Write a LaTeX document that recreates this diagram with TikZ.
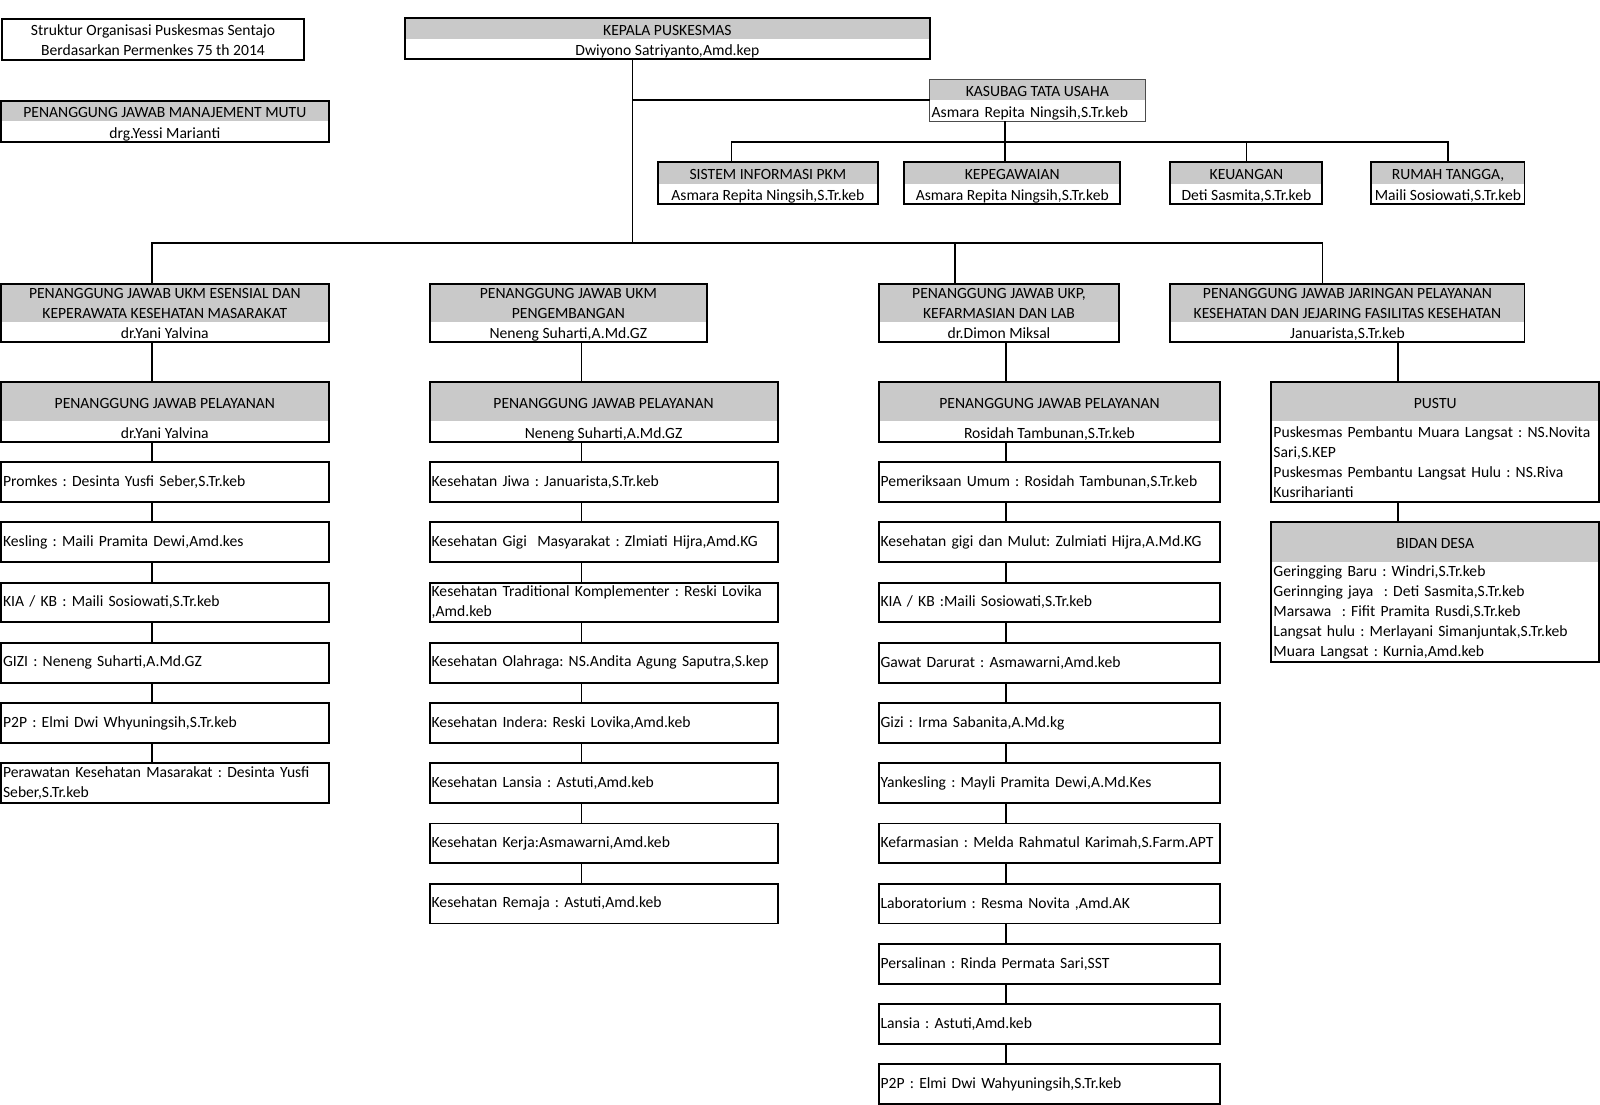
\documentclass[tikz,border=0pt]{standalone}
\usepackage{fontspec}
\setmainfont{Carlito}
\frenchspacing
\usetikzlibrary{positioning}
\definecolor{headgray}{RGB}{201,201,201}
\tikzset{
  boxline/.style={line width=1.9pt},
  thinline/.style={line width=0.8pt, draw=black!70},
  link/.style={line width=1.6pt},
  one/.style={text height=13pt, text depth=0pt},
  head/.style={fill=headgray, inner sep=0pt, outer sep=0pt, anchor=north west, align=center},
  body/.style={inner sep=0pt, outer sep=0pt, align=center, one},
  bodyleft/.style={inner xsep=2pt, inner ysep=0pt, outer sep=0pt, align=left},
  item/.style={draw, line width=1.9pt, anchor=north west, inner xsep=2pt, inner ysep=0pt, outer sep=0pt, minimum height=39pt, align=left}
}

\begin{document}
\begin{tikzpicture}[x=1pt,y=-1pt,font=\fontsize{15.3}{19.6}\selectfont]
\useasboundingbox (0,0) rectangle (1568,1082);

\node[draw, boxline, anchor=north west, minimum width=296pt, minimum height=40pt, inner sep=0pt, align=center] (judul) at (1,18) {Struktur Organisasi Puskesmas Sentajo\\Berdasarkan Permenkes 75 th 2014};

\node[head, one, minimum width=514pt, minimum height=20pt] (kepala) at (397,18) {KEPALA PUSKESMAS};
\node[body, minimum width=514pt, minimum height=20pt, below=0pt of kepala] (kepalaB) {Dwiyono Satriyanto,Amd.kep};
\draw[boxline] (kepala.north west) rectangle (kepala.east |- kepalaB.south);

\node[head, one, minimum width=321pt, minimum height=20pt] (mutu) at (1,99) {PENANGGUNG JAWAB MANAJEMENT MUTU};
\node[body, minimum width=321pt, minimum height=20pt, below=0pt of mutu] (mutuB) {drg.Yessi Marianti};
\draw[boxline] (mutu.north west) rectangle (mutu.east |- mutuB.south);

\node[head, one, minimum width=211pt, minimum height=20pt] (tu) at (911,78) {KASUBAG TATA USAHA};
\node[bodyleft, one, text width=207pt, minimum height=21pt, below=0pt of tu] (tuB) {Asmara Repita Ningsih,S.Tr.keb};
\draw[thinline] (tu.north west) rectangle (tu.east |- tuB.south);

\node[head, one, minimum width=215pt, minimum height=21pt] (sistem) at (645,159) {SISTEM INFORMASI PKM};
\node[body, minimum width=215pt, minimum height=20pt, below=0pt of sistem] (sistemB) {Asmara Repita Ningsih,S.Tr.keb};
\draw[boxline] (sistem.north west) rectangle (sistem.east |- sistemB.south);

\node[head, one, minimum width=212pt, minimum height=21pt] (pegawai) at (886,159) {KEPEGAWAIAN};
\node[body, minimum width=212pt, minimum height=20pt, below=0pt of pegawai] (pegawaiB) {Asmara Repita Ningsih,S.Tr.keb};
\draw[boxline] (pegawai.north west) rectangle (pegawai.east |- pegawaiB.south);

\node[head, one, minimum width=149pt, minimum height=21pt] (uang) at (1147,159) {KEUANGAN};
\node[body, minimum width=149pt, minimum height=20pt, below=0pt of uang] (uangB) {Deti Sasmita,S.Tr.keb};
\draw[boxline] (uang.north west) rectangle (uang.east |- uangB.south);

\node[head, one, minimum width=150pt, minimum height=21pt] (rumah) at (1344,159) {RUMAH TANGGA,};
\node[body, minimum width=150pt, minimum height=20pt, below=0pt of rumah] (rumahB) {Maili Sosiowati,S.Tr.keb};
\draw[boxline] (rumah.north west) rectangle (rumah.east |- rumahB.south);

\node[head, minimum width=321pt, minimum height=38pt] (esensial) at (1,278) {PENANGGUNG JAWAB UKM ESENSIAL DAN\\KEPERAWATA KESEHATAN MASARAKAT};
\node[body, minimum width=321pt, minimum height=19pt, below=0pt of esensial] (esensialB) {dr.Yani Yalvina};
\draw[boxline] (esensial.north west) rectangle (esensial.east |- esensialB.south);

\node[head, minimum width=272pt, minimum height=38pt] (kembang) at (421,278) {PENANGGUNG JAWAB UKM\\PENGEMBANGAN};
\node[body, minimum width=272pt, minimum height=19pt, below=0pt of kembang] (kembangB) {Neneng Suharti,A.Md.GZ};
\draw[boxline] (kembang.north west) rectangle (kembang.east |- kembangB.south);

\node[head, minimum width=236pt, minimum height=38pt] (ukp) at (861,278) {PENANGGUNG JAWAB UKP,\\KEFARMASIAN DAN LAB};
\node[body, minimum width=236pt, minimum height=19pt, below=0pt of ukp] (ukpB) {dr.Dimon Miksal};
\draw[boxline] (ukp.north west) rectangle (ukp.east |- ukpB.south);

\node[head, minimum width=347pt, minimum height=38pt] (jaringan) at (1147,278) {PENANGGUNG JAWAB JARINGAN PELAYANAN\\KESEHATAN DAN JEJARING FASILITAS KESEHATAN};
\node[body, minimum width=347pt, minimum height=19pt, below=0pt of jaringan] (jaringanB) {Januarista,S.Tr.keb};
\draw[boxline] (jaringan.north west) rectangle (jaringan.east |- jaringanB.south);

\node[head, one, minimum width=321pt, minimum height=39pt] (e) at (1,374) {PENANGGUNG JAWAB PELAYANAN};
\node[body, minimum width=321pt, minimum height=20pt, below=0pt of e] (e0) {dr.Yani Yalvina};
\draw[boxline] (e.north west) rectangle (e.east |- e0.south);

\node[head, one, minimum width=341pt, minimum height=39pt] (g) at (421,374) {PENANGGUNG JAWAB PELAYANAN};
\node[body, minimum width=341pt, minimum height=20pt, below=0pt of g] (g0) {Neneng Suharti,A.Md.GZ};
\draw[boxline] (g.north west) rectangle (g.east |- g0.south);

\node[head, one, minimum width=335pt, minimum height=39pt] (p) at (861,374) {PENANGGUNG JAWAB PELAYANAN};
\node[body, minimum width=335pt, minimum height=20pt, below=0pt of p] (p0) {Rosidah Tambunan,S.Tr.keb};
\draw[boxline] (p.north west) rectangle (p.east |- p0.south);

\node[head, one, minimum width=321pt, minimum height=39pt] (pustu) at (1246,374) {PUSTU};
\node[bodyleft, text width=317pt, minimum height=79pt, below=0pt of pustu] (pustuB) {Puskesmas Pembantu Muara Langsat : NS.Novita\\Sari,S.KEP\\Puskesmas Pembantu Langsat Hulu : NS.Riva\\Kusriharianti};
\draw[boxline] (pustu.north west) rectangle (pustu.east |- pustuB.south);

\node[head, one, minimum width=321pt, minimum height=39pt] (bidan) at (1246,512) {BIDAN DESA};
\node[bodyleft, text width=317pt, minimum height=98pt, below=0pt of bidan] (bidanB) {Geringging Baru : Windri,S.Tr.keb\\Gerinnging jaya~ : Deti Sasmita,S.Tr.keb\\Marsawa~ : Fifit Pramita Rusdi,S.Tr.keb\\Langsat hulu : Merlayani Simanjuntak,S.Tr.keb\\Muara Langsat : Kurnia,Amd.keb};
\draw[boxline] (bidan.north west) rectangle (bidan.east |- bidanB.south);

\coordinate (hub) at (620,238);
\coordinate (k1) at (149,238);
\coordinate (k3) at (936,238);
\coordinate (k4) at (1296,238);
\coordinate (tuL) at (717,139);
\coordinate (tuM) at (985,139);
\coordinate (c2) at (570,0);
\coordinate (c3) at (986,0);
\coordinate (c4) at (1370,0);

\draw[link] (kepalaB.south -| hub) -- (hub);
\draw[link] (tu.south west) -| (hub);
\draw[link] (tuB.south -| tuM) -- (pegawai.north -| tuM);
\draw[link] (sistem.north -| tuL) -- (tuL) -- (rumah.north |- tuL) -- (rumah.north);
\draw[link] (uang.north |- tuL) -- (uang.north);
\draw[link] (esensial.north -| k1) -- (k1) -- (k4) -- (jaringan.north -| k4);
\draw[link] (k3) -- (ukp.north -| k3);
\draw[link] (esensialB.south -| k1) -- (e.north -| k1);
\draw[link] (kembangB.south -| c2) -- (g.north -| c2);
\draw[link] (ukpB.south -| c3) -- (p.north -| c3);
\draw[link] (jaringanB.south -| c4) -- (pustu.north -| c4);
\draw[link] (pustuB.south -| c4) -- (bidan.north -| c4);

\foreach \t [count=\i] in {{Promkes : Desinta Yusfi Seber,S.Tr.keb},{Kesling : Maili Pramita Dewi,Amd.kes},{KIA / KB : Maili Sosiowati,S.Tr.keb},{GIZI : Neneng Suharti,A.Md.GZ},{P2P : Elmi Dwi Whyuningsih,S.Tr.keb},{Perawatan Kesehatan Masarakat : Desinta Yusfi\\Seber,S.Tr.keb}}{
  \pgfmathtruncatemacro\j{\i-1}
  \node[item, text width=317pt] (e\i) at (1,394+59*\i) {\t};
  \draw[link] (e\j.south -| k1) -- (e\i.north -| k1);
}

\foreach \t [count=\i] in {{Kesehatan Jiwa : Januarista,S.Tr.keb},{Kesehatan Gigi~ Masyarakat : Zlmiati Hijra,Amd.KG},{Kesehatan Traditional Komplementer : Reski Lovika\\,Amd.keb},{Kesehatan Olahraga: NS.Andita Agung Saputra,S.kep},{Kesehatan Indera: Reski Lovika,Amd.keb},{Kesehatan Lansia : Astuti,Amd.keb},{Kesehatan Kerja:Asmawarni,Amd.keb},{Kesehatan Remaja : Astuti,Amd.keb}}{
  \pgfmathtruncatemacro\j{\i-1}
  \node[item, text width=337pt] (g\i) at (421,394+59*\i) {\t};
  \draw[link] (g\j.south -| c2) -- (g\i.north -| c2);
}

\foreach \t [count=\i] in {{Pemeriksaan Umum : Rosidah Tambunan,S.Tr.keb},{Kesehatan gigi dan Mulut: Zulmiati Hijra,A.Md.KG},{KIA / KB :Maili Sosiowati,S.Tr.keb},{Gawat Darurat : Asmawarni,Amd.keb},{Gizi : Irma Sabanita,A.Md.kg},{Yankesling : Mayli Pramita Dewi,A.Md.Kes},{Kefarmasian : Melda Rahmatul Karimah,S.Farm.APT},{Laboratorium : Resma Novita ,Amd.AK},{Persalinan : Rinda Permata Sari,SST},{Lansia : Astuti,Amd.keb},{P2P : Elmi Dwi Wahyuningsih,S.Tr.keb}}{
  \pgfmathtruncatemacro\j{\i-1}
  \node[item, text width=331pt] (p\i) at (861,394+59*\i) {\t};
  \draw[link] (p\j.south -| c3) -- (p\i.north -| c3);
}
\end{tikzpicture}
\end{document}
